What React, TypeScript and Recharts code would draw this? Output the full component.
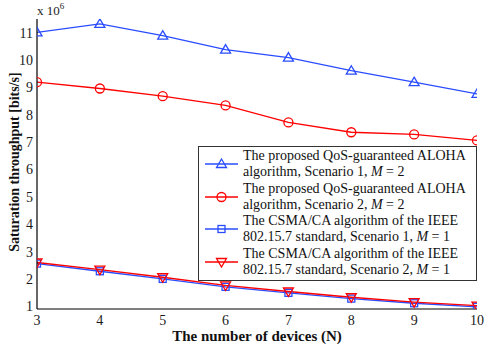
import { Legend, Line, LineChart, XAxis, YAxis } from "recharts";

const devices = [3, 4, 5, 6, 7, 8, 9, 10];
const alohaS1 = [11.01, 11.32, 10.89, 10.38, 10.09, 9.61, 9.19, 8.76];
const alohaS2 = [9.19, 8.96, 8.68, 8.34, 7.72, 7.36, 7.28, 7.06];
const csmaS1 = [2.56, 2.28, 2.0, 1.71, 1.49, 1.28, 1.11, 0.98];
const csmaS2 = [2.6, 2.34, 2.06, 1.76, 1.54, 1.33, 1.15, 1.02];
const yTicks = [1, 2, 3, 4, 5, 6, 7, 8, 9, 10, 11];

const seriesLabels = [
  ["The proposed QoS-guaranteed ALOHA", "algorithm, Scenario 1, "],
  ["The proposed QoS-guaranteed ALOHA", "algorithm, Scenario 2, "],
  ["The CSMA/CA algorithm of the IEEE", "802.15.7 standard, Scenario 1, "],
  ["The CSMA/CA algorithm of the IEEE", "802.15.7 standard, Scenario 2, "],
];
const seriesM = ["2", "2", "1", "1"];

const BLUE = "#2a4cff";
const RED = "#ff0000";
const SERIF = "'Liberation Serif', 'Times New Roman', serif";

const data = devices.map((n, i) => ({
  n,
  a1: alohaS1[i],
  a2: alohaS2[i],
  c1: csmaS1[i],
  c2: csmaS2[i],
}));

const shapes = ["up", "circle", "square", "down"];
const colors = [BLUE, RED, BLUE, RED];

const Marker = ({ cx, cy, shape, color }: any) => {
  const sw = 1.3;
  if (shape === "up")
    return (
      <path
        d={`M${cx},${cy - 5} L${cx + 5},${cy + 3.5} L${cx - 5},${cy + 3.5} Z`}
        fill="none"
        stroke={color}
        strokeWidth={sw}
      />
    );
  if (shape === "down")
    return (
      <path
        d={`M${cx},${cy + 5} L${cx + 5},${cy - 3.5} L${cx - 5},${cy - 3.5} Z`}
        fill="none"
        stroke={color}
        strokeWidth={sw}
      />
    );
  if (shape === "square")
    return (
      <rect x={cx - 3.5} y={cy - 3.5} width={7} height={7} fill="none" stroke={color} strokeWidth={sw} />
    );
  return <circle cx={cx} cy={cy} r={4.5} fill="none" stroke={color} strokeWidth={sw} />;
};

const makeDot = (shape: string, color: string) => (props: any) => {
  if (props.cx == null || props.cy == null) return <g key={props.key} />;
  return (
    <g key={`${shape}-${props.index}`}>
      <Marker cx={props.cx} cy={props.cy} shape={shape} color={color} />
    </g>
  );
};

const LegendBox = () => (
  <div
    style={{
      background: "#fff",
      border: "1px solid #333",
      width: 277,
      height: 132,
      paddingTop: 1,
      fontFamily: SERIF,
      fontSize: 14,
      color: "#111",
      lineHeight: "16.3px",
      boxSizing: "content-box",
    }}
  >
    {seriesLabels.map((lines, i) => (
      <div key={i} style={{ display: "flex", alignItems: "center", height: 32.6 }}>
        <svg width={44} height={20} style={{ flex: "none" }}>
          <line x1={6} x2={39} y1={10} y2={10} stroke={colors[i]} strokeWidth={1.3} />
          <Marker cx={22.5} cy={10} shape={shapes[i]} color={colors[i]} />
        </svg>
        <div style={{ whiteSpace: "nowrap" }}>
          <div>{lines[0]}</div>
          <div>
            {lines[1]}
            <i>M</i> = {seriesM[i]}
          </div>
        </div>
      </div>
    ))}
  </div>
);

const YTitle = () => (
  <g>
    <text
      x={14}
      y={162}
      transform="rotate(-90 14 162)"
      textAnchor="middle"
      dominantBaseline="central"
      fontFamily={SERIF}
      fontWeight="bold"
      fontSize={14}
      fill="#111"
    >
      Saturation throughput [bits/s]
    </text>
    <text x={37} y={15} fontFamily={SERIF} fontSize={13} fill="#222">
      x 10
      <tspan dy={-6} fontSize={9}>
        6
      </tspan>
    </text>
  </g>
);

const tickStyle = { fontFamily: SERIF, fontSize: 14, fill: "#1a1a1a" };

export default function App() {
  return (
    <div style={{ position: "absolute", left: 0, top: 0, width: 485, height: 345, background: "#fff" }}>
      <LineChart width={485} height={345} data={data} margin={{ top: 19, right: 8, bottom: 0, left: 0 }}>
        <XAxis
          xAxisId="x"
          dataKey="n"
          type="number"
          domain={[3, 10]}
          ticks={devices}
          allowDataOverflow
          height={36}
          tickLine={false}
          tickSize={0}
          tickMargin={6}
          axisLine={{ stroke: "#000", strokeWidth: 1.2 }}
          tick={tickStyle}
          label={{
            value: "The number of devices (N)",
            position: "insideBottom",
            offset: 4,
            style: { fontFamily: SERIF, fontWeight: "bold", fontSize: 15, fill: "#111" },
          }}
        />
        <XAxis
          xAxisId="xb"
          type="number"
          domain={[3, 10]}
          ticks={devices}
          allowDataOverflow
          orientation="bottom"
          mirror
          height={0}
          tick={false}
          tickSize={4}
          axisLine={false}
          tickLine={{ stroke: "#333" }}
        />
        <XAxis
          xAxisId="xt"
          type="number"
          domain={[3, 10]}
          ticks={devices}
          allowDataOverflow
          orientation="top"
          mirror
          height={0}
          tick={false}
          tickSize={4}
          axisLine={{ stroke: "#888" }}
          tickLine={{ stroke: "#888" }}
        />
        <YAxis
          yAxisId="y"
          type="number"
          domain={[0.9, 11.5]}
          ticks={yTicks}
          allowDataOverflow
          width={37}
          tickLine={false}
          tickSize={0}
          tickMargin={4}
          axisLine={{ stroke: "#000", strokeWidth: 1.2 }}
          tick={tickStyle}
          label={<YTitle />}
        />
        <YAxis
          yAxisId="yl"
          type="number"
          domain={[0.9, 11.5]}
          ticks={yTicks}
          allowDataOverflow
          orientation="left"
          mirror
          width={0}
          tick={false}
          tickSize={4}
          axisLine={false}
          tickLine={{ stroke: "#333" }}
        />
        <YAxis
          yAxisId="yr"
          type="number"
          domain={[0.9, 11.5]}
          ticks={yTicks}
          allowDataOverflow
          orientation="right"
          mirror
          width={0}
          tick={false}
          tickSize={4}
          axisLine={{ stroke: "#888" }}
          tickLine={{ stroke: "#888" }}
        />
        <Line
          xAxisId="x"
          yAxisId="y"
          dataKey="c1"
          stroke={BLUE}
          strokeWidth={1.3}
          dot={makeDot("square", BLUE)}
          isAnimationActive={false}
        />
        <Line
          xAxisId="x"
          yAxisId="y"
          dataKey="c2"
          stroke={RED}
          strokeWidth={1.3}
          dot={makeDot("down", RED)}
          isAnimationActive={false}
        />
        <Line
          xAxisId="x"
          yAxisId="y"
          dataKey="a2"
          stroke={RED}
          strokeWidth={1.3}
          dot={makeDot("circle", RED)}
          isAnimationActive={false}
        />
        <Line
          xAxisId="x"
          yAxisId="y"
          dataKey="a1"
          stroke={BLUE}
          strokeWidth={1.3}
          dot={makeDot("up", BLUE)}
          isAnimationActive={false}
        />
        <Legend
          layout="vertical"
          align="center"
          verticalAlign="middle"
          content={<LegendBox />}
          wrapperStyle={{ left: 198, top: 146, width: 279, height: 134 }}
        />
      </LineChart>
    </div>
  );
}
